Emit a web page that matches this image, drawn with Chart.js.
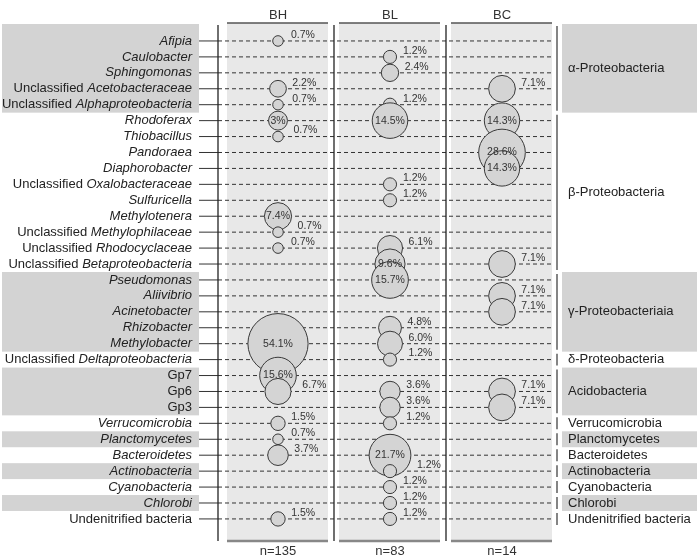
<!DOCTYPE html>
<html>
<head>
<meta charset="utf-8">
<script src="https://cdn.jsdelivr.net/npm/chart.js@4.4.0/dist/chart.umd.min.js"></script>
<style>
  body { margin: 0; background: #fff; }
  #wrap { width: 698px; height: 558px; }
</style>
</head>
<body>
<div id="wrap"><canvas id="bubbleChart"></canvas></div>
<script>
const columns = ['BH', 'BL', 'BC'];
const sampleSizes = ['n=135', 'n=83', 'n=14'];

const rows = [
    'Afipia', 'Caulobacter', 'Sphingomonas', 'Unclassified Acetobacteraceae', 'Unclassified Alphaproteobacteria',
    'Rhodoferax', 'Thiobacillus', 'Pandoraea', 'Diaphorobacter', 'Unclassified Oxalobacteraceae',
    'Sulfuricella', 'Methylotenera', 'Unclassified Methylophilaceae', 'Unclassified Rhodocyclaceae',
    'Unclassified Betaproteobacteria',
    'Pseudomonas', 'Aliivibrio', 'Acinetobacter', 'Rhizobacter', 'Methylobacter',
    'Unclassified Deltaproteobacteria',
    'Gp7', 'Gp6', 'Gp3',
    'Verrucomicrobia', 'Planctomycetes', 'Bacteroidetes', 'Actinobacteria', 'Cyanobacteria', 'Chlorobi',
    'Undenitrified bacteria'
];

// percentages per row (null = not detected)
const bhValues = [0.7, null, null, 2.2, 0.7, 3, 0.7, null, null, null, null, 7.4, 0.7, 0.7, null,
    null, null, null, null, 54.1, null, 15.6, 6.7, null, 1.5, 0.7, 3.7, null, null, null, 1.5];
const blValues = [null, 1.2, 2.4, null, 1.2, 14.5, null, null, null, 1.2, 1.2, null, null, 6.1, 9.6,
    15.7, null, null, 4.8, 6.0, 1.2, null, 3.6, 3.6, 1.2, null, 21.7, 1.2, 1.2, 1.2, 1.2];
const bcValues = [null, null, null, 7.1, null, 14.3, null, 28.6, 14.3, null, null, null, null, null, 7.1,
    null, 7.1, 7.1, null, null, null, null, 7.1, 7.1, null, null, null, null, null, null, null];

const groupNames = ['α-Proteobacteria', 'β-Proteobacteria', 'γ-Proteobacteriaia', 'δ-Proteobacteria',
    'Acidobacteria', 'Verrucomicrobia', 'Planctomycetes', 'Bacteroidetes', 'Actinobacteria',
    'Cyanobacteria', 'Chlorobi', 'Undenitrified bacteria'];
const groupSizes = [5, 10, 5, 1, 3, 1, 1, 1, 1, 1, 1, 1];

const FONT = '"Liberation Sans", Arial, sans-serif';
const radius = v => 6.1 * Math.pow(v, 0.4);
const fmt = v => (Number.isInteger(v) && v !== 6 ? v : v.toFixed(1)) + '%';
const isInside = v => v >= 7.4 || v === 3; // big bubbles carry their label inside

function makeData(col, values) {
    const out = [];
    values.forEach((v, i) => {
        if (v != null) out.push({ x: col, y: rows[i], r: radius(v), v: v, row: i });
    });
    return out;
}

// draws panels, label bands, axis, dashed guides and group brackets
const decor = {
    id: 'decor',
    beforeDatasetsDraw(chart) {
        const ctx = chart.ctx;
        const xs = chart.scales.x, ys = chart.scales.y;
        const rowY = i => ys.getPixelForValue(i);
        const step = rowY(1) - rowY(0);
        const top = 23, bottom = 541, axisX = 218, lineEnd = 552;
        ctx.save();

        // group bands (left label bands and right boxes) + brackets + names
        let start = 0;
        groupSizes.forEach((n, g) => {
            const end = start + n - 1;
            const y0 = g === 0 ? 24 : rowY(start) - step / 2;
            const y1 = rowY(end) + step / 2;
            if (g % 2 === 0) {
                ctx.fillStyle = '#d3d3d3';
                ctx.fillRect(2, y0, 197, y1 - y0);
                ctx.fillRect(562, y0, 135, y1 - y0);
            }
            ctx.strokeStyle = '#333';
            ctx.lineWidth = 1.2;
            ctx.beginPath();
            ctx.moveTo(557, y0 + 2);
            ctx.lineTo(557, y1 - 2);
            ctx.stroke();
            ctx.fillStyle = '#222';
            ctx.font = '13px ' + FONT;
            ctx.textAlign = 'left';
            ctx.textBaseline = 'middle';
            ctx.fillText(groupNames[g], 568, (y0 + y1) / 2);
            start = end + 1;
        });

        // column panels
        columns.forEach((c, j) => {
            const cx = xs.getPixelForValue(j);
            ctx.fillStyle = '#e8e8e8';
            ctx.fillRect(cx - 51, top, 101, bottom - top);
            ctx.strokeStyle = '#555';
            ctx.lineWidth = 1.5;
            ctx.beginPath();
            ctx.moveTo(cx - 51, top);
            ctx.lineTo(cx + 50, top);
            ctx.stroke();
            ctx.strokeStyle = '#888';
            ctx.lineWidth = 2.5;
            ctx.beginPath();
            ctx.moveTo(cx - 51, bottom);
            ctx.lineTo(cx + 50, bottom);
            ctx.stroke();
            ctx.fillStyle = '#333';
            ctx.font = '13px ' + FONT;
            ctx.textAlign = 'center';
            ctx.textBaseline = 'middle';
            ctx.fillText(c, cx, 15);
            ctx.fillText(sampleSizes[j], cx, 551);
        });

        // row labels, ticks and dashed guides
        rows.forEach((name, i) => {
            const y = rowY(i);
            ctx.strokeStyle = '#333';
            ctx.lineWidth = 1;
            ctx.setLineDash([]);
            ctx.beginPath();
            ctx.moveTo(199, y);
            ctx.lineTo(axisX, y);
            ctx.stroke();
            ctx.setLineDash([4, 3]);
            ctx.beginPath();
            ctx.moveTo(axisX, y);
            ctx.lineTo(lineEnd, y);
            ctx.stroke();
            ctx.setLineDash([]);

            let plain = '', ital = name;
            if (name.startsWith('Unclassified ')) {
                plain = 'Unclassified ';
                ital = name.slice(13);
            } else if (/^Gp\d/.test(name) || name === 'Undenitrified bacteria') {
                plain = name;
                ital = '';
            }
            ctx.fillStyle = '#222';
            ctx.textBaseline = 'middle';
            ctx.textAlign = 'right';
            let x = 192;
            if (ital) {
                ctx.font = 'italic 13px ' + FONT;
                ctx.fillText(ital, x, y);
                x -= ctx.measureText(ital).width;
            }
            if (plain) {
                ctx.font = '13px ' + FONT;
                ctx.fillText(plain, x, y);
            }
        });

        // axis and column separators
        ctx.strokeStyle = '#222';
        ctx.lineWidth = 1.3;
        const seps = [axisX, (xs.getPixelForValue(0) + xs.getPixelForValue(1)) / 2,
            (xs.getPixelForValue(1) + xs.getPixelForValue(2)) / 2];
        seps.forEach(x => {
            ctx.beginPath();
            ctx.moveTo(x, 25);
            ctx.lineTo(x, 541);
            ctx.stroke();
        });
        ctx.restore();
    },
    afterDatasetsDraw(chart) {
        const ctx = chart.ctx;
        ctx.save();
        ctx.font = '10.5px ' + FONT;
        ctx.fillStyle = '#333';
        ctx.textBaseline = 'middle';
        chart.data.datasets.forEach((ds, d) => {
            const meta = chart.getDatasetMeta(d);
            ds.data.forEach((pt, k) => {
                const el = meta.data[k];
                if (isInside(pt.v)) {
                    ctx.textAlign = 'center';
                    ctx.fillText(fmt(pt.v), el.x, el.y);
                } else {
                    // push label past a bigger bubble on the row above
                    const prev = ds.data.find(p => p.row === pt.row - 1);
                    const rr = Math.max(pt.r, prev ? prev.r : 0, 7);
                    ctx.textAlign = 'left';
                    ctx.fillText(fmt(pt.v), el.x + rr + 6, el.y - 6);
                }
            });
        });
        ctx.restore();
    }
};

const ctx = document.getElementById('bubbleChart').getContext('2d');
const bubbleChart = new Chart(ctx, {
    type: 'bubble',
    data: {
        datasets: [
            { label: 'BH', data: makeData('BH', bhValues) },
            { label: 'BL', data: makeData('BL', blValues) },
            { label: 'BC', data: makeData('BC', bcValues) }
        ].map(ds => Object.assign(ds, {
            backgroundColor: '#d4d4d4',
            borderColor: '#3a3a3a',
            borderWidth: 1,
            clip: false
        }))
    },
    options: {
        responsive: true,
        maintainAspectRatio: false,
        animation: false,
        events: [],
        layout: { padding: { left: 222, right: 140, top: 33, bottom: 27 } },
        plugins: { legend: { display: false }, tooltip: { enabled: false } },
        scales: {
            x: { type: 'category', labels: columns, offset: true, display: false },
            y: { type: 'category', labels: rows, offset: true, display: false }
        }
    },
    plugins: [decor]
});
</script>
</body>
</html>
